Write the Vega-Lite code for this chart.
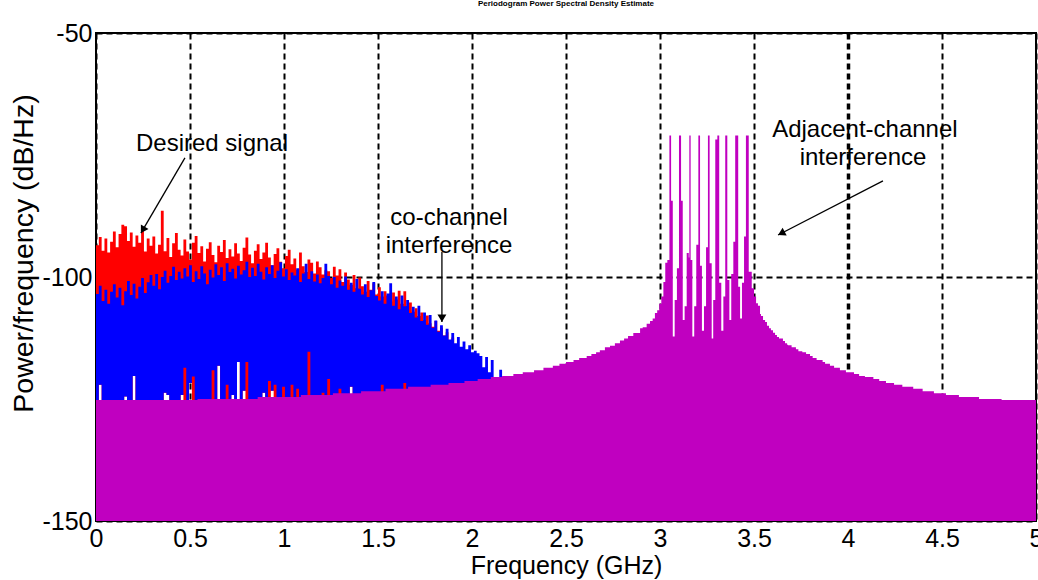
{
"$schema": "https://vega.github.io/schema/vega-lite/v6.json",
"width": 940,
"height": 488,
"autosize": {"type": "none"},
"padding": {"left": 96, "top": 33, "right": 2, "bottom": 59},
"background": "white",
"config": {"view": {"stroke": "black", "strokeWidth": 2}, "font": "Liberation Sans"},
"title": {"text": "Periodogram Power Spectral Density Estimate", "fontSize": 8, "fontWeight": "bold", "font": "Liberation Sans", "color": "black", "offset": 13, "anchor": "middle"},
"datasets": {
"red": [
{"f":0,"p":-93.5,"lo":-150},{"f":0.015,"p":-91.8,"lo":-122.1},{"f":0.03,"p":-94.6,"lo":-150},{"f":0.045,"p":-92.1,"lo":-150},{"f":0.06,"p":-95.0,"lo":-150},{"f":0.075,"p":-92.8,"lo":-150},{"f":0.09,"p":-90.7,"lo":-150},{"f":0.105,"p":-93.9,"lo":-150},{"f":0.12,"p":-91.2,"lo":-150},{"f":0.135,"p":-89.3,"lo":-150},
{"f":0.15,"p":-89.6,"lo":-124.5},{"f":0.165,"p":-92.6,"lo":-150},{"f":0.18,"p":-90.9,"lo":-150},{"f":0.195,"p":-93.8,"lo":-120.3},{"f":0.21,"p":-91.5,"lo":-150},{"f":0.225,"p":-93.0,"lo":-150},{"f":0.24,"p":-90.4,"lo":-150},{"f":0.255,"p":-94.8,"lo":-150},{"f":0.27,"p":-92.1,"lo":-150},{"f":0.285,"p":-93.6,"lo":-150},
{"f":0.3,"p":-91.7,"lo":-150},{"f":0.315,"p":-95.2,"lo":-150},{"f":0.33,"p":-93.4,"lo":-150},{"f":0.345,"p":-86.4,"lo":-150},{"f":0.36,"p":-94.7,"lo":-123.7},{"f":0.375,"p":-92.0,"lo":-124.2},{"f":0.39,"p":-95.9,"lo":-150},{"f":0.405,"p":-93.1,"lo":-150},{"f":0.42,"p":-91.0,"lo":-150},{"f":0.435,"p":-94.4,"lo":-150},
{"f":0.45,"p":-95.6,"lo":-124.2},{"f":0.465,"p":-92.3,"lo":-150},{"f":0.48,"p":-94.8,"lo":-150},{"f":0.495,"p":-96.4,"lo":-121.7},{"f":0.51,"p":-93.0,"lo":-150},{"f":0.525,"p":-91.6,"lo":-150},{"f":0.54,"p":-95.1,"lo":-150},{"f":0.555,"p":-93.7,"lo":-150},{"f":0.57,"p":-96.8,"lo":-150},{"f":0.585,"p":-94.2,"lo":-150},
{"f":0.6,"p":-92.9,"lo":-150},{"f":0.615,"p":-95.5,"lo":-150},{"f":0.63,"p":-97.0,"lo":-150},{"f":0.645,"p":-93.6,"lo":-118.2},{"f":0.66,"p":-94.9,"lo":-150},{"f":0.675,"p":-92.4,"lo":-150},{"f":0.69,"p":-96.1,"lo":-150},{"f":0.705,"p":-94.3,"lo":-150},{"f":0.72,"p":-95.8,"lo":-124.2},{"f":0.735,"p":-93.1,"lo":-150},
{"f":0.75,"p":-95.2,"lo":-117.4},{"f":0.765,"p":-96.7,"lo":-150},{"f":0.78,"p":-94.0,"lo":-123.3},{"f":0.795,"p":-91.9,"lo":-150},{"f":0.81,"p":-95.4,"lo":-150},{"f":0.825,"p":-97.2,"lo":-150},{"f":0.84,"p":-94.6,"lo":-150},{"f":0.855,"p":-93.3,"lo":-150},{"f":0.87,"p":-96.3,"lo":-150},{"f":0.885,"p":-95.0,"lo":-123.7},
{"f":0.9,"p":-93.0,"lo":-150},{"f":0.915,"p":-96.0,"lo":-150},{"f":0.93,"p":-97.6,"lo":-123.3},{"f":0.945,"p":-95.3,"lo":-150},{"f":0.96,"p":-94.1,"lo":-150},{"f":0.975,"p":-96.9,"lo":-150},{"f":0.99,"p":-98.2,"lo":-150},{"f":1.005,"p":-95.7,"lo":-150},{"f":1.02,"p":-94.4,"lo":-150},{"f":1.035,"p":-97.4,"lo":-150},
{"f":1.05,"p":-96.2,"lo":-150},{"f":1.065,"p":-98.5,"lo":-150},{"f":1.08,"p":-95.0,"lo":-150},{"f":1.095,"p":-97.8,"lo":-150},{"f":1.11,"p":-99.0,"lo":-150},{"f":1.125,"p":-96.4,"lo":-150},{"f":1.14,"p":-97.1,"lo":-150},{"f":1.155,"p":-99.3,"lo":-150},{"f":1.17,"p":-96.8,"lo":-150},{"f":1.185,"p":-98.0,"lo":-150},
{"f":1.2,"p":-99.5,"lo":-150},{"f":1.215,"p":-98.6,"lo":-150},{"f":1.23,"p":-98.8,"lo":-150},{"f":1.245,"p":-100.2,"lo":-150},{"f":1.26,"p":-97.9,"lo":-150},{"f":1.275,"p":-99.7,"lo":-150},{"f":1.29,"p":-98.4,"lo":-150},{"f":1.305,"p":-101.0,"lo":-150},{"f":1.32,"p":-99.1,"lo":-150},{"f":1.335,"p":-100.5,"lo":-150},
{"f":1.35,"p":-101.6,"lo":-122.5},{"f":1.365,"p":-99.6,"lo":-150},{"f":1.38,"p":-102.3,"lo":-150},{"f":1.395,"p":-100.1,"lo":-150},{"f":1.41,"p":-101.9,"lo":-150},{"f":1.425,"p":-103.0,"lo":-150},{"f":1.44,"p":-100.8,"lo":-150},{"f":1.455,"p":-102.6,"lo":-150},{"f":1.47,"p":-101.3,"lo":-150},{"f":1.485,"p":-103.6,"lo":-150},
{"f":1.5,"p":-102.1,"lo":-150},{"f":1.515,"p":-104.0,"lo":-150},{"f":1.53,"p":-102.9,"lo":-150},{"f":1.545,"p":-103.8,"lo":-150},{"f":1.56,"p":-105.0,"lo":-150},{"f":1.575,"p":-103.2,"lo":-150},{"f":1.59,"p":-104.6,"lo":-150},{"f":1.605,"p":-102.8,"lo":-150},{"f":1.62,"p":-105.5,"lo":-150},{"f":1.635,"p":-102.9,"lo":-150},
{"f":1.65,"p":-106.0,"lo":-150},{"f":1.665,"p":-105.2,"lo":-150},{"f":1.68,"p":-107.1,"lo":-150},{"f":1.695,"p":-106.4,"lo":-150},{"f":1.71,"p":-108.0,"lo":-150},{"f":1.725,"p":-107.3,"lo":-150},{"f":1.74,"p":-108.8,"lo":-150},{"f":1.755,"p":-107.9,"lo":-150},{"f":1.77,"p":-109.5,"lo":-150},{"f":1.785,"p":-110.2,"lo":-150},
{"f":1.8,"p":-109.0,"lo":-150},{"f":1.815,"p":-111.0,"lo":-150},{"f":1.83,"p":-110.4,"lo":-150},{"f":1.845,"p":-112.0,"lo":-150},{"f":1.86,"p":-111.3,"lo":-150},{"f":1.875,"p":-113.0,"lo":-150},{"f":1.89,"p":-112.4,"lo":-150},{"f":1.905,"p":-114.0,"lo":-150},{"f":1.92,"p":-115.0,"lo":-150},{"f":1.935,"p":-116.5,"lo":-150},
{"f":1.95,"p":-118.0,"lo":-150},{"f":1.965,"p":-118.0,"lo":-150}
],
"blue": [
{"f":0,"p":-103.5,"lo":-150},{"f":0.015,"p":-101.8,"lo":-122.1},{"f":0.03,"p":-104.9,"lo":-150},{"f":0.045,"p":-102.6,"lo":-150},{"f":0.06,"p":-105.5,"lo":-150},{"f":0.075,"p":-103.0,"lo":-150},{"f":0.09,"p":-101.5,"lo":-150},{"f":0.105,"p":-104.2,"lo":-150},{"f":0.12,"p":-102.2,"lo":-150},{"f":0.135,"p":-105.8,"lo":-150},
{"f":0.15,"p":-102.9,"lo":-124.5},{"f":0.165,"p":-100.8,"lo":-150},{"f":0.18,"p":-103.7,"lo":-150},{"f":0.195,"p":-101.4,"lo":-120.3},{"f":0.21,"p":-104.4,"lo":-150},{"f":0.225,"p":-102.0,"lo":-150},{"f":0.24,"p":-100.2,"lo":-150},{"f":0.255,"p":-103.3,"lo":-150},{"f":0.27,"p":-101.1,"lo":-150},{"f":0.285,"p":-99.6,"lo":-150},
{"f":0.3,"p":-101.8,"lo":-150},{"f":0.315,"p":-99.4,"lo":-150},{"f":0.33,"p":-102.5,"lo":-150},{"f":0.345,"p":-100.0,"lo":-150},{"f":0.36,"p":-98.7,"lo":-123.7},{"f":0.375,"p":-101.2,"lo":-124.2},{"f":0.39,"p":-99.8,"lo":-150},{"f":0.405,"p":-97.9,"lo":-150},{"f":0.42,"p":-100.6,"lo":-150},{"f":0.435,"p":-98.9,"lo":-150},
{"f":0.45,"p":-100.3,"lo":-124.2},{"f":0.465,"p":-98.2,"lo":-118.6},{"f":0.48,"p":-99.9,"lo":-150},{"f":0.495,"p":-97.6,"lo":-121.7},{"f":0.51,"p":-101.0,"lo":-120.4},{"f":0.525,"p":-98.8,"lo":-150},{"f":0.54,"p":-100.4,"lo":-150},{"f":0.555,"p":-97.8,"lo":-150},{"f":0.57,"p":-99.3,"lo":-150},{"f":0.585,"p":-101.5,"lo":-150},
{"f":0.6,"p":-98.5,"lo":-150},{"f":0.615,"p":-100.1,"lo":-119.1},{"f":0.63,"p":-97.4,"lo":-150},{"f":0.645,"p":-99.6,"lo":-118.2},{"f":0.66,"p":-98.0,"lo":-150},{"f":0.675,"p":-100.8,"lo":-150},{"f":0.69,"p":-97.2,"lo":-122.1},{"f":0.705,"p":-99.0,"lo":-150},{"f":0.72,"p":-98.3,"lo":-124.2},{"f":0.735,"p":-100.3,"lo":-150},
{"f":0.75,"p":-97.7,"lo":-117.4},{"f":0.765,"p":-99.5,"lo":-150},{"f":0.78,"p":-98.6,"lo":-123.3},{"f":0.795,"p":-96.9,"lo":-117.4},{"f":0.81,"p":-100.0,"lo":-150},{"f":0.825,"p":-98.1,"lo":-150},{"f":0.84,"p":-99.8,"lo":-150},{"f":0.855,"p":-97.3,"lo":-150},{"f":0.87,"p":-98.9,"lo":-150},{"f":0.885,"p":-100.5,"lo":-123.7},
{"f":0.9,"p":-98.0,"lo":-150},{"f":0.915,"p":-99.4,"lo":-121.3},{"f":0.93,"p":-97.6,"lo":-123.3},{"f":0.945,"p":-100.2,"lo":-122.1},{"f":0.96,"p":-98.7,"lo":-150},{"f":0.975,"p":-97.0,"lo":-150},{"f":0.99,"p":-99.9,"lo":-122.5},{"f":1.005,"p":-98.4,"lo":-150},{"f":1.02,"p":-100.6,"lo":-150},{"f":1.035,"p":-99.1,"lo":-122.1},
{"f":1.05,"p":-99.7,"lo":-150},{"f":1.065,"p":-98.2,"lo":-122.9},{"f":1.08,"p":-101.0,"lo":-150},{"f":1.095,"p":-99.3,"lo":-150},{"f":1.11,"p":-97.3,"lo":-150},{"f":1.125,"p":-100.4,"lo":-115.3},{"f":1.14,"p":-98.8,"lo":-150},{"f":1.155,"p":-100.9,"lo":-150},{"f":1.17,"p":-99.5,"lo":-150},{"f":1.185,"p":-101.3,"lo":-150},
{"f":1.2,"p":-100.2,"lo":-123.7},{"f":1.215,"p":-97.3,"lo":-150},{"f":1.23,"p":-99.8,"lo":-120.9},{"f":1.245,"p":-101.5,"lo":-150},{"f":1.26,"p":-100.0,"lo":-150},{"f":1.275,"p":-102.2,"lo":-150},{"f":1.29,"p":-100.7,"lo":-122.9},{"f":1.305,"p":-101.8,"lo":-150},{"f":1.32,"p":-99.9,"lo":-150},{"f":1.335,"p":-102.6,"lo":-150},
{"f":1.35,"p":-101.2,"lo":-122.5},{"f":1.365,"p":-103.0,"lo":-150},{"f":1.38,"p":-100.4,"lo":-150},{"f":1.395,"p":-102.4,"lo":-150},{"f":1.41,"p":-103.6,"lo":-150},{"f":1.425,"p":-101.5,"lo":-150},{"f":1.44,"p":-104.1,"lo":-150},{"f":1.455,"p":-102.7,"lo":-150},{"f":1.47,"p":-101.0,"lo":-150},{"f":1.485,"p":-103.9,"lo":-150},
{"f":1.5,"p":-104.8,"lo":-150},{"f":1.515,"p":-102.9,"lo":-122.1},{"f":1.53,"p":-105.5,"lo":-150},{"f":1.545,"p":-103.4,"lo":-150},{"f":1.56,"p":-101.3,"lo":-150},{"f":1.575,"p":-105.9,"lo":-150},{"f":1.59,"p":-104.0,"lo":-150},{"f":1.605,"p":-106.6,"lo":-150},{"f":1.62,"p":-103.8,"lo":-150},{"f":1.635,"p":-106.0,"lo":-121.7},
{"f":1.65,"p":-104.7,"lo":-150},{"f":1.665,"p":-107.4,"lo":-150},{"f":1.68,"p":-106.1,"lo":-150},{"f":1.695,"p":-108.3,"lo":-150},{"f":1.71,"p":-105.9,"lo":-150},{"f":1.725,"p":-109.0,"lo":-150},{"f":1.74,"p":-107.3,"lo":-150},{"f":1.755,"p":-109.8,"lo":-150},{"f":1.77,"p":-107.8,"lo":-150},{"f":1.785,"p":-110.4,"lo":-150},
{"f":1.8,"p":-108.9,"lo":-150},{"f":1.815,"p":-111.2,"lo":-150},{"f":1.83,"p":-109.9,"lo":-150},{"f":1.845,"p":-112.0,"lo":-150},{"f":1.86,"p":-110.6,"lo":-150},{"f":1.875,"p":-112.8,"lo":-150},{"f":1.89,"p":-111.5,"lo":-150},{"f":1.905,"p":-113.6,"lo":-150},{"f":1.92,"p":-112.3,"lo":-150},{"f":1.935,"p":-114.3,"lo":-150},
{"f":1.95,"p":-113.2,"lo":-150},{"f":1.965,"p":-114.8,"lo":-150},{"f":1.98,"p":-114.0,"lo":-150},{"f":1.995,"p":-115.4,"lo":-150},{"f":2.01,"p":-115.1,"lo":-150},{"f":2.025,"p":-115.6,"lo":-150},{"f":2.04,"p":-116.2,"lo":-150},{"f":2.055,"p":-118.5,"lo":-150},{"f":2.07,"p":-116.4,"lo":-150},{"f":2.085,"p":-119.5,"lo":-150},
{"f":2.1,"p":-117.0,"lo":-150},{"f":2.115,"p":-122.0,"lo":-150},{"f":2.13,"p":-121.0,"lo":-150},{"f":2.145,"p":-119.0,"lo":-150},{"f":2.16,"p":-122.0,"lo":-150},{"f":2.175,"p":-121.0,"lo":-150},{"f":2.19,"p":-125.0,"lo":-150},{"f":2.205,"p":-125.0,"lo":-150}
],
"mag": [
{"f":0,"p":-125.2},{"f":0.54,"p":-125.0},{"f":0.86,"p":-124.6},{"f":1.09,"p":-124.2},{"f":1.26,"p":-123.8},{"f":1.41,"p":-123.4},{"f":1.54,"p":-122.9},{"f":1.66,"p":-122.5},{"f":1.78,"p":-122.1},{"f":1.875,"p":-121.7},
{"f":1.96,"p":-121.3},{"f":2.03,"p":-120.9},{"f":2.1,"p":-120.5},{"f":2.16,"p":-120.3},{"f":2.22,"p":-119.9},{"f":2.27,"p":-119.5},{"f":2.33,"p":-119.1},{"f":2.38,"p":-118.6},{"f":2.43,"p":-118.2},{"f":2.465,"p":-117.8},
{"f":2.5,"p":-117.4},{"f":2.54,"p":-117.0},{"f":2.57,"p":-116.6},{"f":2.61,"p":-116.2},{"f":2.635,"p":-115.8},{"f":2.66,"p":-115.4},{"f":2.68,"p":-115.0},{"f":2.707,"p":-114.4},{"f":2.734,"p":-114.1},{"f":2.76,"p":-113.6},
{"f":2.787,"p":-113.0},{"f":2.809,"p":-112.6},{"f":2.83,"p":-112.1},{"f":2.858,"p":-111.5},{"f":2.894,"p":-110.5},{"f":2.908,"p":-110.3},{"f":2.929,"p":-109.6},{"f":2.947,"p":-109.0},{"f":2.961,"p":-108.5},{"f":2.973,"p":-107.4},
{"f":2.985,"p":-106.8},{"f":2.996,"p":-105.5},{"f":3.007,"p":-104.0},{"f":3.018,"p":-101.0},{"f":3.028,"p":-97.1},{"f":3.039,"p":-96.5},{"f":3.05,"p":-71.0},{"f":3.059,"p":-84.4},{"f":3.068,"p":-112.2},{"f":3.078,"p":-104.7},
{"f":3.09,"p":-98.2},{"f":3.101,"p":-71.0},{"f":3.112,"p":-84.4},{"f":3.121,"p":-108.8},{"f":3.131,"p":-106.0},{"f":3.142,"p":-95.1},{"f":3.153,"p":-96.0},{"f":3.156,"p":-71.0},{"f":3.163,"p":-96.5},{"f":3.172,"p":-112.2},
{"f":3.182,"p":-106.0},{"f":3.193,"p":-93.4},{"f":3.204,"p":-71.0},{"f":3.213,"p":-97.7},{"f":3.223,"p":-111.0},{"f":3.234,"p":-106.0},{"f":3.245,"p":-93.9},{"f":3.255,"p":-71.0},{"f":3.264,"p":-97.2},{"f":3.275,"p":-112.6},
{"f":3.283,"p":-104.7},{"f":3.294,"p":-71.8},{"f":3.305,"p":-71.0},{"f":3.315,"p":-101.2},{"f":3.326,"p":-111.0},{"f":3.337,"p":-104.0},{"f":3.347,"p":-71.0},{"f":3.358,"p":-100.6},{"f":3.369,"p":-108.8},{"f":3.379,"p":-99.4},
{"f":3.39,"p":-92.8},{"f":3.4,"p":-71.0},{"f":3.416,"p":-102.0},{"f":3.426,"p":-108.5},{"f":3.436,"p":-101.2},{"f":3.447,"p":-91.7},{"f":3.457,"p":-71.0},{"f":3.472,"p":-98.9},{"f":3.488,"p":-102.3},{"f":3.5,"p":-104.0},
{"f":3.511,"p":-105.4},{"f":3.521,"p":-105.9},{"f":3.532,"p":-107.6},{"f":3.537,"p":-108.0},{"f":3.548,"p":-108.8},{"f":3.559,"p":-109.2},{"f":3.569,"p":-110.0},{"f":3.58,"p":-110.5},{"f":3.59,"p":-110.9},{"f":3.601,"p":-111.4},
{"f":3.612,"p":-111.9},{"f":3.622,"p":-112.3},{"f":3.633,"p":-112.6},{"f":3.654,"p":-113.1},{"f":3.665,"p":-113.6},{"f":3.676,"p":-113.9},{"f":3.681,"p":-114.0},{"f":3.7,"p":-114.4},{"f":3.723,"p":-114.8},{"f":3.736,"p":-115.2},
{"f":3.757,"p":-115.4},{"f":3.777,"p":-115.8},{"f":3.798,"p":-116.2},{"f":3.812,"p":-116.6},{"f":3.833,"p":-117.0},{"f":3.865,"p":-117.4},{"f":3.878,"p":-117.8},{"f":3.904,"p":-118.2},{"f":3.926,"p":-118.6},{"f":3.957,"p":-119.1},
{"f":3.989,"p":-119.5},{"f":4.032,"p":-119.9},{"f":4.059,"p":-120.3},{"f":4.09,"p":-120.5},{"f":4.135,"p":-120.9},{"f":4.166,"p":-121.3},{"f":4.202,"p":-121.7},{"f":4.245,"p":-122.1},{"f":4.289,"p":-122.5},{"f":4.347,"p":-122.9},
{"f":4.397,"p":-123.4},{"f":4.457,"p":-123.8},{"f":4.521,"p":-124.2},{"f":4.59,"p":-124.6},{"f":4.697,"p":-125.0},{"f":4.817,"p":-125.2},{"f":5.0,"p":-125.2}
],
"notes": [
{"f":0.617,"p":-72.7,"t":"Desired signal"},
{"f":1.878,"p":-87.9,"t":"co-channel"},
{"f":1.878,"p":-93.6,"t":"interference"},
{"f":4.09,"p":-69.9,"t":"Adjacent-channel"},
{"f":4.08,"p":-75.6,"t":"interference"}
],
"arrows": [
{"id":1,"f":0.473,"p":-75.6,"f2":0.239,"p2":-91.0},
{"id":2,"f":1.84,"p":-94.9,"f2":1.84,"p2":-109.2},
{"id":3,"f":4.186,"p":-80.3,"f2":3.628,"p2":-91.4}
]
},
"layer": [
{
"data": {"name": "red"},
"mark": {"type": "area", "color": "#ff0000", "interpolate": "step-after", "clip": true},
"encoding": {
"x": {"field": "f", "type": "quantitative", "scale": {"domain": [0, 5], "nice": false, "zero": false},
"axis": {"values": [0,0.5,1,1.5,2,2.5,3,3.5,4,4.5,5], "format": "~g", "title": "Frequency (GHz)", "grid": true, "gridColor": "black", "gridDash": [6,4], "gridOpacity": 1,
"gridWidth": {"condition": {"test": "datum.value == 4", "value": 3.5}, "value": 2},
"ticks": false, "domain": false, "labelFlush": false, "labelOverlap": false, "labelFont": "Liberation Sans", "labelFontSize": 25, "labelColor": "black", "labelPadding": 5,
"titleFont": "Liberation Sans", "titleFontSize": 25, "titleFontWeight": "normal", "titleColor": "black", "titlePadding": 2}},
"y": {"field": "p", "type": "quantitative", "scale": {"domain": [-150, -50], "nice": false, "zero": false},
"axis": {"values": [-150,-100,-50], "labelExpr": "'' + datum.value", "title": "Power/frequency (dB/Hz)", "grid": true, "gridColor": "black", "gridDash": [6,4], "gridOpacity": 1, "gridWidth": 2,
"ticks": false, "domain": false, "labelFlush": false, "labelOverlap": false, "labelFont": "Liberation Sans", "labelFontSize": 25, "labelColor": "black", "labelPadding": 4,
"titleFont": "Liberation Sans", "titleFontSize": 28.5, "titleFontWeight": "normal", "titleColor": "black", "titlePadding": 3, "titleY": 220}},
"y2": {"field": "lo"}
}
},
{
"data": {"name": "blue"},
"mark": {"type": "area", "color": "#0000ff", "interpolate": "step-after", "clip": true},
"encoding": {
"x": {"field": "f", "type": "quantitative"},
"y": {"field": "p", "type": "quantitative"},
"y2": {"field": "lo"}
}
},
{
"data": {"name": "mag"},
"mark": {"type": "area", "color": "#c000c0", "interpolate": "step-after", "clip": true},
"encoding": {
"x": {"field": "f", "type": "quantitative"},
"y": {"field": "p", "type": "quantitative"},
"y2": {"datum": -150}
}
},
{
"data": {"name": "notes"},
"mark": {"type": "text", "font": "Liberation Sans", "fontSize": 24, "color": "black", "align": "center", "baseline": "middle"},
"encoding": {
"x": {"field": "f", "type": "quantitative"},
"y": {"field": "p", "type": "quantitative"},
"text": {"field": "t"}
}
},
{
"data": {"name": "arrows"},
"mark": {"type": "rule", "color": "black", "strokeWidth": 1.3},
"encoding": {
"x": {"field": "f", "type": "quantitative"},
"y": {"field": "p", "type": "quantitative"},
"x2": {"field": "f2"},
"y2": {"field": "p2"}
}
},
{
"data": {"name": "arrows"},
"transform": [{"filter": "datum.id == 1"}],
"mark": {"type": "point", "shape": "M0,0 L-0.6,1 L0.6,1 Z", "filled": true, "color": "black", "opacity": 1, "size": 220, "angle": 210.4},
"encoding": {
"x": {"field": "f2", "type": "quantitative"},
"y": {"field": "p2", "type": "quantitative"}
}
},
{
"data": {"name": "arrows"},
"transform": [{"filter": "datum.id == 2"}],
"mark": {"type": "point", "shape": "M0,0 L-0.6,1 L0.6,1 Z", "filled": true, "color": "black", "opacity": 1, "size": 220, "angle": 180},
"encoding": {
"x": {"field": "f2", "type": "quantitative"},
"y": {"field": "p2", "type": "quantitative"}
}
},
{
"data": {"name": "arrows"},
"transform": [{"filter": "datum.id == 3"}],
"mark": {"type": "point", "shape": "M0,0 L-0.6,1 L0.6,1 Z", "filled": true, "color": "black", "opacity": 1, "size": 220, "angle": 242.8},
"encoding": {
"x": {"field": "f2", "type": "quantitative"},
"y": {"field": "p2", "type": "quantitative"}
}
}
]
}
